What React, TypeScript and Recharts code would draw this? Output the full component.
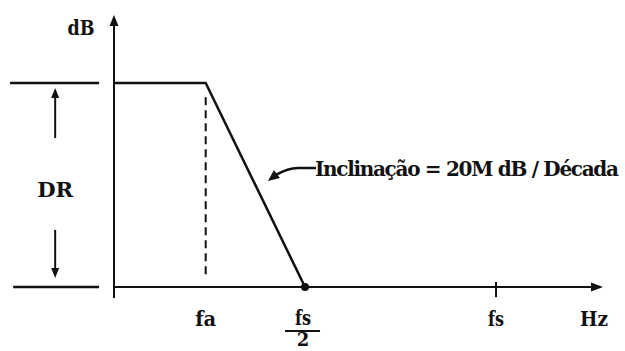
import React from 'react'
import { LineChart, Line, XAxis, YAxis, ReferenceLine, ReferenceDot, Label } from 'recharts'

// Frequencies are expressed as a fraction of the sampling rate fs
const freqLabels = ['fa', 'fs/2', 'fs']
const freqValues = [0.24, 0.5, 1]

// Ideal anti-aliasing response: flat up to fa, then rolls off to zero at fs/2
const responseFreq = [0, 0.24, 0.5]
const responseLevel = [1, 1, 0]

const slopeText = 'Inclinação = 20M dB / Década'

const response = responseFreq.map((f, i) => ({ f, db: responseLevel[i] }))

const INK = '#111'
const FONT = "'DejaVu Serif', serif"
const textProps = { fontFamily: FONT, fontWeight: 700, fontSize: 21, fill: INK }

// squeeze a label to a given width, the serif face is wide
const fit = (w: number) => ({ textLength: w, lengthAdjust: 'spacingAndGlyphs' as const })

// line with a filled arrowhead at its second point
function arrowShape(len: number, half: number, width = 2) {
  return (props: any) => {
    const { x1, y1, x2, y2 } = props
    const dx = x2 - x1
    const dy = y2 - y1
    const d = Math.hypot(dx, dy) || 1
    const ux = dx / d
    const uy = dy / d
    const bx = x2 - ux * len
    const by = y2 - uy * len
    const pts = `${x2},${y2} ${bx - uy * half},${by + ux * half} ${bx + uy * half},${by - ux * half}`
    return (
      <g>
        <line x1={x1} y1={y1} x2={bx + ux * 1} y2={by + uy * 1} stroke={INK} strokeWidth={width} />
        <polygon points={pts} fill={INK} />
      </g>
    )
  }
}

function FreqTick(props: any) {
  const { x, y, payload } = props
  const label = freqLabels[freqValues.indexOf(payload.value)]
  if (label === 'fs/2') {
    return (
      <g>
        <text x={x - 2} y={y + 38} textAnchor="middle" {...textProps} {...fit(16)}>fs</text>
        <line x1={x - 20} y1={y + 44} x2={x + 15} y2={y + 44} stroke={INK} strokeWidth={2} />
        <text x={x - 2} y={y + 59} textAnchor="middle" {...textProps} fontSize={18}>2</text>
      </g>
    )
  }
  return (
    <text x={x} y={y + 39} textAnchor="middle" {...textProps} {...fit(label === 'fa' ? 21 : 16)}>{label}</text>
  )
}

// curved pointer towards the roll-off with the slope annotation
function SlopeNote(props: any) {
  const { cx, cy } = props
  const tip = `${cx},${cy} ${cx + 6},${cy - 11} ${cx + 12},${cy - 3}`
  return (
    <g>
      <path
        d={`M${cx + 48},${cy - 13} L${cx + 30},${cy - 13} Q${cx + 20},${cy - 13} ${cx + 8},${cy - 6}`}
        fill="none"
        stroke={INK}
        strokeWidth={2.5}
      />
      <polygon points={tip} fill={INK} />
      <text x={cx + 47} y={cy - 5} {...textProps} fontSize={20} letterSpacing={-1.3}>{slopeText}</text>
    </g>
  )
}

export default function App() {
  return (
    <div style={{ position: 'absolute', left: 0, top: 0, width: 625, height: 351, background: '#fff' }}>
      <LineChart
        width={625}
        height={351}
        data={response}
        margin={{ top: 15, right: 22, bottom: 34, left: 114 }}
      >
        <XAxis
          dataKey="f"
          type="number"
          domain={[0, 1.28]}
          ticks={freqValues}
          tick={<FreqTick />}
          tickLine={false}
          axisLine={false}
          tickSize={0}
          tickMargin={0}
          height={30}
          interval={0}
        >
          <Label
            content={(p: any) => {
              const vb = p.viewBox
              return (
                <text x={vb.x + vb.width - 9} y={vb.y + 39} textAnchor="middle" {...textProps} {...fit(28)}>Hz</text>
              )
            }}
          />
        </XAxis>
        <YAxis type="number" domain={[0, 1.333]} hide />

        {/* axes with arrowheads */}
        <ReferenceLine
          segment={[{ x: 0, y: 0 }, { x: 1.28, y: 0 }]}
          ifOverflow="visible"
          shape={arrowShape(12, 4.5)}
        />
        <ReferenceLine
          segment={[{ x: 0, y: -0.054 }, { x: 0, y: 1.333 }]}
          ifOverflow="visible"
          shape={arrowShape(11, 4.5)}
        >
          <Label
            content={(p: any) => {
              const vb = p.viewBox
              return (
                <text x={vb.x - 33} y={vb.y + 20} textAnchor="middle" {...textProps} {...fit(27)}>dB</text>
              )
            }}
          />
        </ReferenceLine>

        {/* fs tick */}
        <ReferenceLine
          segment={[{ x: 1, y: 0.025 }, { x: 1, y: -0.05 }]}
          ifOverflow="visible"
          stroke={INK}
          strokeWidth={2}
        />

        {/* fa marker */}
        <ReferenceLine
          segment={[{ x: freqValues[0], y: 0.93 }, { x: freqValues[0], y: 0.044 }]}
          ifOverflow="visible"
          stroke={INK}
          strokeWidth={2}
          strokeDasharray="8 5"
        />

        {/* dynamic range bracket */}
        <ReferenceLine
          segment={[{ x: -0.272, y: 1 }, { x: -0.039, y: 1 }]}
          ifOverflow="visible"
          stroke={INK}
          strokeWidth={2.5}
        />
        <ReferenceLine
          segment={[{ x: -0.264, y: 0 }, { x: -0.039, y: 0 }]}
          ifOverflow="visible"
          stroke={INK}
          strokeWidth={2.5}
        />
        <ReferenceLine
          segment={[{ x: -0.154, y: 0.73 }, { x: -0.154, y: 0.975 }]}
          ifOverflow="visible"
          shape={arrowShape(10, 4)}
        />
        <ReferenceLine
          segment={[{ x: -0.154, y: 0.28 }, { x: -0.154, y: 0.044 }]}
          ifOverflow="visible"
          shape={arrowShape(10, 4)}
        />
        <ReferenceDot
          x={-0.154}
          y={0.5}
          r={0}
          ifOverflow="visible"
          shape={(p: any) => (
            <text x={p.cx} y={p.cy + 12} textAnchor="middle" {...textProps} {...fit(36)}>DR</text>
          )}
        />

        <Line
          dataKey="db"
          type="linear"
          stroke={INK}
          strokeWidth={2.5}
          dot={false}
          activeDot={false}
          isAnimationActive={false}
        />
        <ReferenceDot x={0.5} y={0} r={4} fill={INK} stroke="none" ifOverflow="visible" />
        <ReferenceDot x={0.403} y={0.52} r={0} ifOverflow="visible" shape={<SlopeNote />} />
      </LineChart>
    </div>
  )
}
